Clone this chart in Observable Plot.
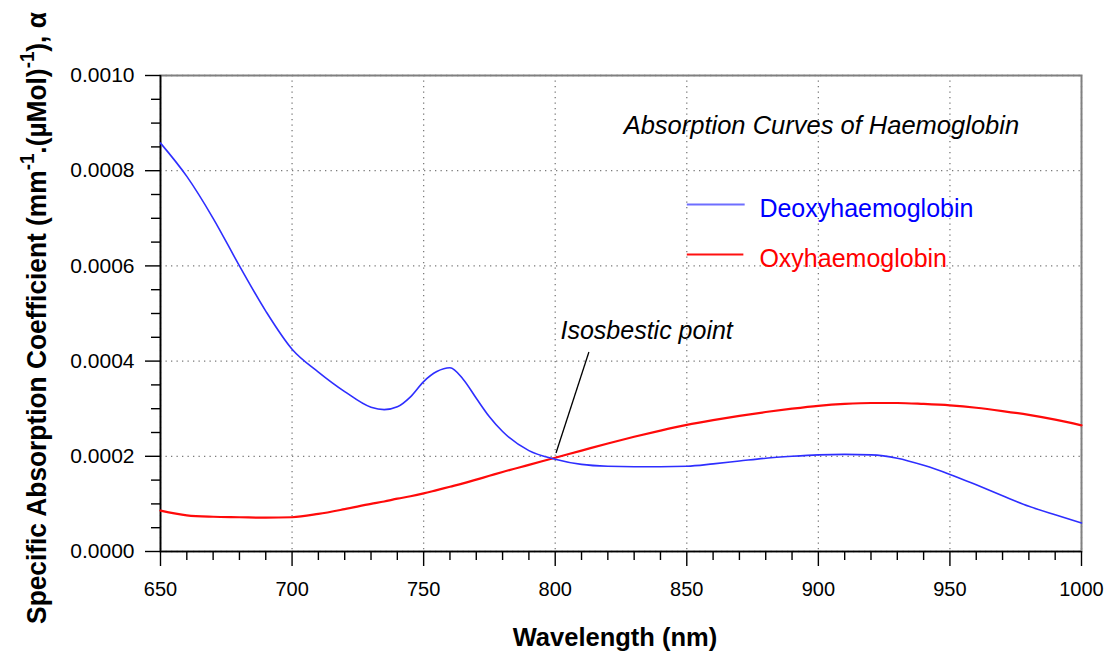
<!DOCTYPE html>
<html><head><meta charset="utf-8">
<script src="https://cdn.jsdelivr.net/npm/d3@7"></script>
<script src="https://cdn.jsdelivr.net/npm/@observablehq/plot@0.6"></script>
<style>body{margin:0;background:#fff;} svg{display:block;}</style>
</head><body><div id="chart"></div>
<script>
// Wavelength samples (nm)
const wavelength = [650,660,670,680,690,700,710,720,730,735,740,745,750,755,760,765,770,775,780,790,800,810,820,830,840,850,860,870,880,890,900,910,920,930,940,950,960,970,980,990,1000];
// Deoxyhaemoglobin specific absorption coefficient
const deoxy = [0.000858,0.000788,0.000700,0.000600,0.000505,0.000425,0.000377,0.000336,0.000303,0.000298,0.000304,0.000325,0.000357,0.000378,0.000386,0.000362,0.000322,0.000283,0.000252,0.000212,0.000194,0.000183,0.000179,0.000178,0.000178,0.000179,0.000184,0.000190,0.000196,0.000200,0.000203,0.000204,0.000203,0.000196,0.000181,0.000162,0.000140,0.000117,0.000095,0.000077,0.000060];
// Oxyhaemoglobin specific absorption coefficient
const oxy = [0.000086,0.000076,0.000073,0.000072,0.000071,0.000072,0.000079,0.000089,0.000100,0.000105,0.000111,0.000116,0.000122,0.000129,0.000136,0.000143,0.000151,0.000159,0.000167,0.000182,0.000197,0.000212,0.000227,0.000241,0.000254,0.000266,0.000276,0.000285,0.000293,0.000300,0.000306,0.000310,0.000312,0.000312,0.000310,0.000307,0.000302,0.000295,0.000287,0.000277,0.000265];

const seriesNames = ["Deoxyhaemoglobin", "Oxyhaemoglobin"];
const seriesColors = ["#2e2eff", "#ff0a0a"];
const legendTextColors = ["#0000ff", "#ff0000"];
const legendLineColors = ["#6e6eff", "#ff1010"];

const xMajorTicks = [650,700,750,800,850,900,950,1000];
const xMinorTicks = [660,670,680,690,710,720,730,740,760,770,780,790,810,820,830,840,860,870,880,890,910,920,930,940,960,970,980,990];
const yMajorTicks = [0,0.0002,0.0004,0.0006,0.0008,0.0010];
const yMinorTicks = [0.00005,0.0001,0.00015,0.00025,0.0003,0.00035,0.00045,0.0005,0.00055,0.00065,0.0007,0.00075,0.00085,0.0009,0.00095];

const chartTitle = "Absorption Curves of Haemoglobin";
const xLabel = "Wavelength (nm)";

// Annotations in data coordinates
const titleAnchor = [{x: 826, y: 0.000878, text: chartTitle}];
const legendItems = [
  {x1: 850, x2: 872, y: 0.000729, tx: 877.6, ty: 0.000702, name: seriesNames[0], stroke: legendLineColors[0], fill: legendTextColors[0], w: 2},
  {x1: 850, x2: 871.5, y: 0.000624, tx: 877.6, ty: 0.000597, name: seriesNames[1], stroke: legendLineColors[1], fill: legendTextColors[1], w: 2.2}
];
const isoPointer = [{x1: 800.3, y1: 0.000207, x2: 812.8, y2: 0.000419}];
const isoLabel = [{x: 802, y: 0.000447, text: "Isosbestic point"}];

const deoxyRows = wavelength.map((w, i) => ({w, v: deoxy[i]}));
const oxyRows = wavelength.map((w, i) => ({w, v: oxy[i]}));

const gridStyle = {stroke: "#7a7a7a", strokeOpacity: 1, strokeWidth: 1.3, strokeDasharray: "1.3,4.2"};
const font = "'Liberation Sans', Arial, sans-serif";

const plot = Plot.plot({
  width: 1114,
  height: 652,
  marginLeft: 160,
  marginRight: 33,
  marginTop: 75,
  marginBottom: 101,
  style: {fontFamily: font, fontSize: "20px", color: "#000", background: "#fff"},
  x: {domain: [650, 1000]},
  y: {domain: [0, 0.001]},
  marks: [
    Plot.gridX(xMajorTicks, gridStyle),
    Plot.gridY(yMajorTicks, gridStyle),
    Plot.frame({stroke: "#808080", strokeWidth: 2}),
    Plot.ruleX([650], {stroke: "#000", strokeWidth: 1.6}),
    Plot.ruleY([0], {stroke: "#000", strokeWidth: 1.6}),
    Plot.axisY(yMinorTicks, {tickSize: 9, tickFormat: () => "", label: null, strokeWidth: 1.4}),
    Plot.axisY(yMajorTicks, {tickSize: 15, tickPadding: 11, tickFormat: d3.format(".4f"), label: null, fontSize: 21, strokeWidth: 1.4}),
    Plot.axisX(xMinorTicks, {tickSize: 9, tickFormat: () => "", label: null, strokeWidth: 1.4}),
    Plot.axisX(xMajorTicks, {tickSize: 15, tickPadding: 15, tickFormat: d => String(d), label: null, fontSize: 20, strokeWidth: 1.4}),
    Plot.line(oxyRows, {x: "w", y: "v", stroke: seriesColors[1], strokeWidth: 2.2, curve: "monotone-x"}),
    Plot.line(deoxyRows, {x: "w", y: "v", stroke: seriesColors[0], strokeWidth: 1.6, curve: "monotone-x"}),
    Plot.text(titleAnchor, {x: "x", y: "y", text: "text", textAnchor: "start", lineAnchor: "bottom", fontSize: 25.5, fontStyle: "italic", fill: "#000"}),
    Plot.link(legendItems, {x1: "x1", x2: "x2", y1: "y", y2: "y", stroke: "stroke", strokeWidth: "w"}),
    Plot.text(legendItems, {x: "tx", y: "ty", text: "name", fill: "fill", textAnchor: "start", lineAnchor: "bottom", fontSize: 25}),
    Plot.link(isoPointer, {x1: "x1", y1: "y1", x2: "x2", y2: "y2", stroke: "#000", strokeWidth: 1.3}),
    Plot.text(isoLabel, {x: "x", y: "y", text: "text", textAnchor: "start", lineAnchor: "bottom", fontSize: 25, fontStyle: "italic", fill: "#000"})
  ]
});

const svg = d3.select(plot);
// Y axis title with superscripts
const yt = svg.append("text")
  .attr("transform", "translate(46,318) rotate(-90) scale(0.94,1)")
  .attr("text-anchor", "middle")
  .attr("font-family", font)
  .attr("font-weight", "bold")
  .attr("font-size", 28)
  .attr("fill", "#000");
yt.append("tspan").text("Specific Absorption Coefficient (mm");
yt.append("tspan").attr("font-size", 20).attr("dy", -12).text("-1");
yt.append("tspan").attr("dy", 12).text(".(\u00b5Mol)");
yt.append("tspan").attr("font-size", 20).attr("dy", -12).text("-1");
yt.append("tspan").attr("dy", 12).text("), \u03b1");

// X axis title
svg.append("text")
  .attr("x", 615).attr("y", 646)
  .attr("text-anchor", "middle")
  .attr("font-family", font)
  .attr("font-weight", "bold")
  .attr("font-size", 25.5)
  .attr("fill", "#000")
  .text(xLabel);

document.getElementById("chart").appendChild(plot);
</script>
</body></html>
